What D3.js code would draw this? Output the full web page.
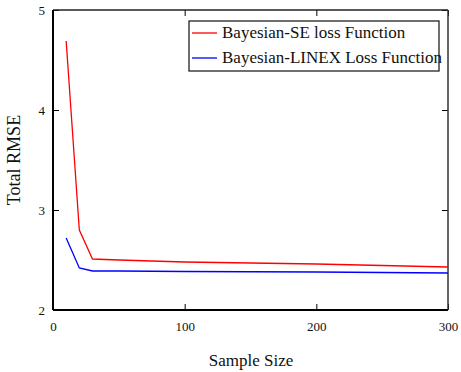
<!DOCTYPE html>
<html>
<head>
<meta charset="utf-8">
<script src="https://cdn.jsdelivr.net/npm/d3@7"></script>
<style>
  body { margin: 0; background: #fff; }
  text { font-family: "Liberation Serif", "Times New Roman", serif; fill: #111; }
</style>
</head>
<body>
<svg id="chart" width="461" height="372"></svg>
<script>
// values
var sampleSizes = [10, 20, 30, 50, 100, 200, 300];
var seLoss = [4.69, 2.80, 2.51, 2.50, 2.48, 2.46, 2.43];
var linexLoss = [2.72, 2.42, 2.39, 2.39, 2.385, 2.38, 2.37];
var seriesNames = ["Bayesian-SE loss Function", "Bayesian-LINEX Loss Function"];
var seriesColors = ["#ff0000", "#0000ff"];
var xTicks = [0, 100, 200, 300];
var yTicks = [2, 3, 4, 5];

var margin = { left: 53, top: 10, right: 13, bottom: 62 };
var width = 461, height = 372;

var svg = d3.select("#chart");

var x = d3.scaleLinear().domain([0, 300]).range([margin.left, width - margin.right]);
var y = d3.scaleLinear().domain([2, 5]).range([height - margin.bottom, margin.top]);

// inner ticks on all four sides
svg.append("g")
  .attr("transform", "translate(0," + y(2) + ")")
  .call(d3.axisBottom(x).tickValues(xTicks).tickFormat(d3.format("d")).tickSizeInner(-6).tickSizeOuter(0).tickPadding(12))
  .call(g => g.select(".domain").remove())
  .call(g => g.selectAll("text").style("font-size", "13px").attr("font-family", null));

svg.append("g")
  .attr("transform", "translate(" + x(0) + ",0)")
  .call(d3.axisLeft(y).tickValues(yTicks).tickFormat(d3.format("d")).tickSizeInner(-6).tickSizeOuter(0).tickPadding(8))
  .call(g => g.select(".domain").remove())
  .call(g => g.selectAll("text").style("font-size", "13px").attr("font-family", null));

svg.append("g")
  .attr("transform", "translate(0," + y(5) + ")")
  .call(d3.axisTop(x).tickValues(xTicks).tickSizeInner(-6).tickSizeOuter(0).tickFormat(""))
  .call(g => g.select(".domain").remove());

svg.append("g")
  .attr("transform", "translate(" + x(300) + ",0)")
  .call(d3.axisRight(y).tickValues(yTicks).tickSizeInner(-6).tickSizeOuter(0).tickFormat(""))
  .call(g => g.select(".domain").remove());

// frame
svg.append("line").attr("x1", x(0)).attr("x2", x(300)).attr("y1", y(5)).attr("y2", y(5))
  .attr("stroke", "#222").attr("stroke-width", 1.5);
svg.append("line").attr("x1", x(300)).attr("x2", x(300)).attr("y1", y(5)).attr("y2", y(2))
  .attr("stroke", "#333").attr("stroke-width", 1.5);
svg.append("line").attr("x1", x(0)).attr("x2", x(300)).attr("y1", y(2)).attr("y2", y(2))
  .attr("stroke", "#000").attr("stroke-width", 2);
svg.append("line").attr("x1", x(0)).attr("x2", x(0)).attr("y1", y(5)).attr("y2", y(2))
  .attr("stroke", "#000").attr("stroke-width", 2);

var line = d3.line()
  .x((d, i) => x(sampleSizes[i]))
  .y(d => y(d));

[seLoss, linexLoss].forEach(function(s, k) {
  svg.append("path")
    .datum(s)
    .attr("fill", "none")
    .attr("stroke", seriesColors[k])
    .attr("stroke-width", 1.3)
    .attr("d", line);
});

// legend
var lg = svg.append("g");
lg.append("rect")
  .attr("x", 189).attr("y", 21).attr("width", 250).attr("height", 50)
  .attr("fill", "#fff").attr("stroke", "#222").attr("stroke-width", 1.3);
seriesNames.forEach(function(n, i) {
  var yy = 33 + i * 25;
  lg.append("line").attr("x1", 192).attr("x2", 217).attr("y1", yy).attr("y2", yy)
    .attr("stroke", seriesColors[i]).attr("stroke-width", 1.3);
  lg.append("text").attr("x", 222).attr("y", yy + 5).style("font-size", "17px").text(n);
});

// axis titles
svg.append("text")
  .attr("transform", "translate(20," + (y(3.5)) + ") rotate(-90)")
  .attr("text-anchor", "middle")
  .style("font-size", "18px")
  .text("Total RMSE");

svg.append("text")
  .attr("x", 251).attr("y", 366)
  .attr("text-anchor", "middle")
  .style("font-size", "17px")
  .text("Sample Size");
</script>
</body>
</html>
